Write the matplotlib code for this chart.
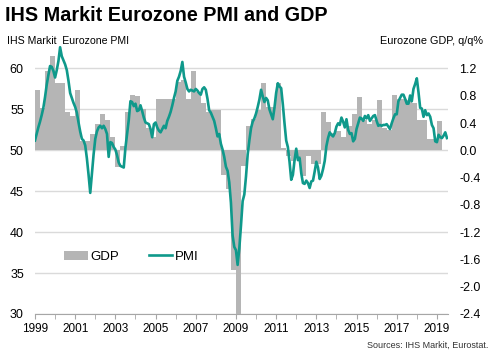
import numpy as np
import pandas as pd
import matplotlib.pyplot as plt
from matplotlib.ticker import FixedLocator, FuncFormatter, MultipleLocator

plt.rcParams['font.family'] = ['Liberation Sans', 'DejaVu Sans']

# Eurozone GDP, q/q % (1999Q1 - 2019Q1)
gdp_quarters = pd.period_range('1999Q1', '2019Q1', freq='Q')
gdp = [0.89, 0.62, 1.16, 1.38,
       0.99, 0.99, 0.56, 0.50,
       0.89, 0.14, 0.14, 0.24,
       0.39, 0.54, 0.44, 0.19,
       -0.25, 0.06, 0.56, 0.81,
       0.79, 0.60, 0.33, 0.19,
       0.75, 0.76, 0.76, 0.76,
       1.00, 1.03, 0.75, 1.17,
       0.85, 0.69, 0.56, 0.59,
       0.59, -0.36, -0.56, -1.75,
       -2.90, -0.23, 0.36, 0.46,
       0.59, 0.99, 0.64, 0.64,
       0.99, 0.04, -0.08, -0.15,
       -0.10, -0.38, -0.08, -0.20,
       -0.20, 0.56, 0.41, 0.26,
       0.28, 0.19, 0.35, 0.54,
       0.78, 0.44, 0.39, 0.44,
       0.74, 0.33, 0.30, 0.81,
       0.76, 0.76, 0.74, 0.70,
       0.44, 0.44, 0.16, 0.16,
       0.43]

# IHS Markit Eurozone composite PMI (Jan 1999 - Jul 2019)
pmi_months = pd.period_range('1999-01', '2019-07', freq='M')
pmi = [51.2, 52.0, 52.8, 53.5, 54.3, 55.2, 56.5, 58.0, 59.2, 60.3, 60.2, 59.7,
       58.9, 59.8, 60.9, 62.6, 61.5, 61.0, 60.5, 59.8, 58.5, 57.0, 56.4, 55.8,
       55.3, 54.6, 53.4, 52.3, 51.4, 51.2, 50.6, 49.0, 47.0, 44.8, 47.2, 49.5,
       51.4, 52.3, 52.8, 53.0, 52.7, 53.0, 52.6, 52.0, 49.2, 51.0, 50.9, 50.4,
       50.1, 49.4, 48.5, 48.1, 48.0, 47.9, 50.3, 52.0, 53.7, 56.0, 55.9, 55.4,
       55.7, 54.8, 54.9, 55.5, 54.8, 54.0, 53.4, 53.3, 53.2, 52.6, 51.6, 53.2,
       53.4, 52.8, 52.4, 52.2, 52.6, 53.0, 52.7, 53.6, 54.1, 54.7, 55.5, 56.4,
       57.2, 58.5, 59.0, 59.7, 60.8, 59.0, 58.3, 57.5, 57.2, 57.4, 57.3, 57.2,
       57.5, 57.3, 57.0, 56.8, 57.5, 57.7, 57.4, 56.3, 54.9, 54.6, 54.1, 53.6,
       52.7, 51.7, 52.0, 50.8, 50.1, 49.2, 48.0, 47.5, 46.1, 43.6, 39.6, 38.2,
       37.8, 36.0, 38.0, 40.8, 43.8, 44.6, 46.8, 49.5, 51.2, 52.7, 53.5, 53.9,
       54.5, 55.3, 56.2, 57.4, 56.6, 55.9, 56.4, 56.1, 55.0, 54.4, 53.8, 55.2,
       57.0, 58.2, 57.8, 57.6, 55.6, 53.3, 51.2, 50.4, 48.6, 46.4, 47.0, 48.8,
       50.2, 48.8, 49.1, 47.2, 46.0, 45.9, 46.3, 46.0, 45.4, 46.2, 46.3, 47.4,
       48.6, 47.9, 46.5, 46.9, 47.7, 48.7, 50.5, 51.5, 52.2, 51.9, 51.7, 52.1,
       52.9, 53.3, 53.1, 54.0, 53.5, 52.8, 53.8, 52.5, 52.0, 52.1, 51.1, 51.4,
       52.6, 53.3, 54.0, 53.9, 53.6, 54.2, 53.9, 54.3, 53.6, 53.9, 54.2, 54.3,
       53.6, 53.0, 53.1, 53.0, 53.1, 53.1, 53.2, 52.9, 52.6, 53.3, 53.9, 54.4,
       54.4, 56.0, 56.4, 56.8, 56.8, 56.3, 55.7, 55.7, 56.7, 56.0, 57.5, 58.1,
       58.8, 57.1, 55.2, 55.1, 54.1, 54.9, 54.3, 54.5, 54.1, 53.1, 52.7, 51.1,
       51.0, 51.9, 51.6, 51.5, 51.8, 52.2, 51.5]

pmi_ticks = [30, 35, 40, 45, 50, 55, 60]
gdp_ticks = [-2.4, -2.0, -1.6, -1.2, -0.8, -0.4, 0.0, 0.4, 0.8, 1.2]
year_labels = list(range(1999, 2020, 2))

gdp_x = gdp_quarters.year + (gdp_quarters.quarter - 1) / 4
pmi_x = pmi_months.year + (pmi_months.month - 1) / 12

teal = '#0f998b'
grey = '#b5b5b5'

fig = plt.figure(figsize=(4.92, 3.53), dpi=100)
ax = fig.add_axes([0.0711, 0.1105, 0.8394, 0.765])

# base axes: PMI scale, gridlines and left labels
ax.set_ylim(30, 63)
ax.set_xlim(1999, 2019.55)
ax.yaxis.set_major_locator(FixedLocator(pmi_ticks))
ax.grid(axis='y', color='#dadada', lw=1)
ax.tick_params(axis='y', length=0, pad=8, labelsize=9)
for s in ['top', 'right', 'left']:
    ax.spines[s].set_visible(False)
ax.spines['bottom'].set_color('#a6a6a6')
ax.xaxis.set_major_locator(FixedLocator(year_labels))
ax.xaxis.set_minor_locator(MultipleLocator(1))
ax.tick_params(axis='x', which='both', length=3.5, color='#a6a6a6', pad=3, labelsize=8.5)

# GDP bars on right axis
ax_gdp = ax.twinx()
ax_gdp.set_ylim(-2.4, 1.56)
bars = ax_gdp.bar(gdp_x, gdp, width=0.25, align='edge', color=grey, lw=0, label='GDP')
ax_gdp.yaxis.set_major_locator(FixedLocator(gdp_ticks))
ax_gdp.yaxis.set_major_formatter(FuncFormatter(lambda v, p: '%.1f' % v))
ax_gdp.tick_params(axis='y', length=0, pad=8, labelsize=9)
for s in ax_gdp.spines.values():
    s.set_visible(False)

# PMI line on top
ax_line = ax.twinx()
ax_line.set_ylim(30, 63)
line, = ax_line.plot(pmi_x, pmi, color=teal, lw=1.9, label='PMI')
ax_line.set_yticks([])
for s in ax_line.spines.values():
    s.set_visible(False)

ax_line.legend(handles=[bars, line], ncol=2, frameon=False, fontsize=9.5,
               loc='center left', bbox_to_anchor=(0.131, 0.272),
               bbox_transform=fig.transFigure, borderpad=0, borderaxespad=0,
               handlelength=1.8, handletextpad=0.2, columnspacing=2.2)

fig.text(0.01, 0.957, 'IHS Markit Eurozone PMI and GDP', fontsize=14.2,
         fontweight='bold', va='center', ha='left')
fig.text(0.014, 0.884, 'IHS Markit  Eurozone PMI', fontsize=7.6, va='center', ha='left')
fig.text(0.982, 0.884, 'Eurozone GDP, q/q%', fontsize=7.8, va='center', ha='right')
fig.text(0.993, 0.022, 'Sources: IHS Markit, Eurostat.', fontsize=6.5,
         va='center', ha='right', color='#333333')

fig.savefig('out.png', dpi=100)
